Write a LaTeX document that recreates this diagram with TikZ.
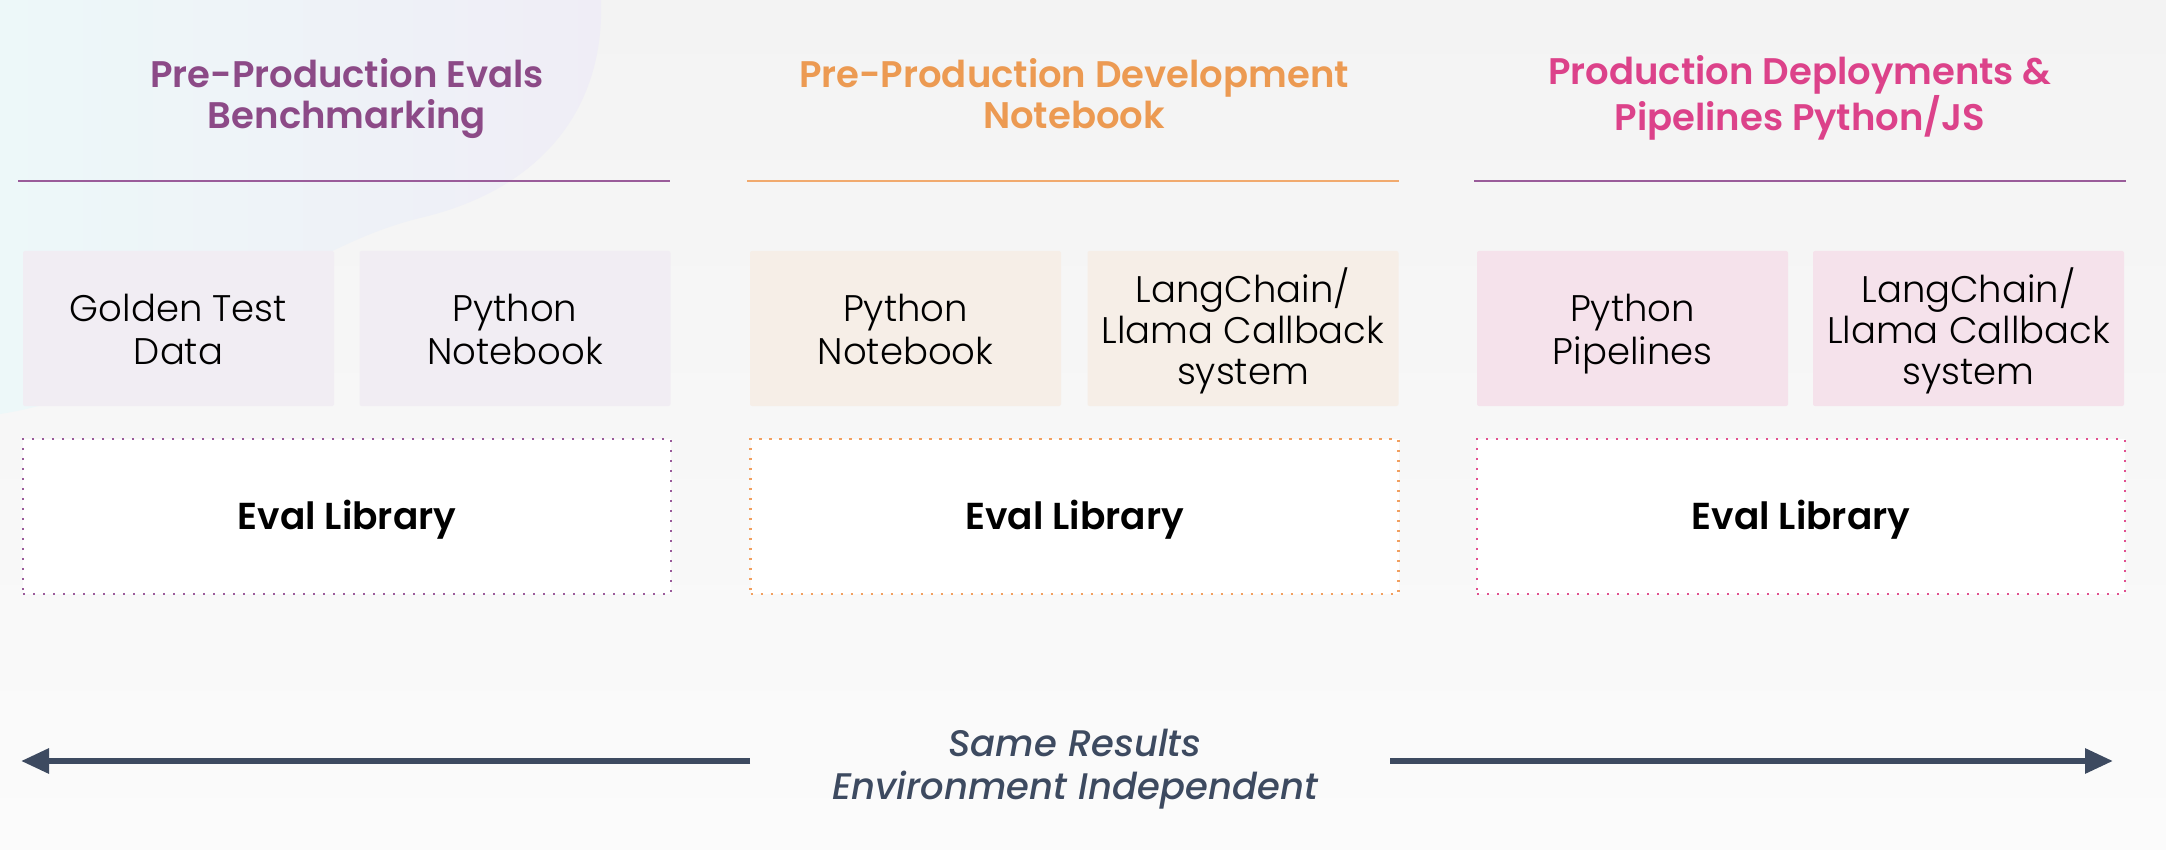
\documentclass[tikz,border=0pt]{standalone}
\usepackage{fontspec}
\setmainfont{Poppins}
\newfontfamily\plight{Poppins Light}
\newfontfamily\psemi{Poppins SemiBold}
\newfontfamily\pmedit{Poppins Medium Italic}
\usetikzlibrary{arrows.meta}
\definecolor{bgtop}{HTML}{F3F3F3}
\definecolor{bgbot}{HTML}{FBFBFB}
\definecolor{blobA}{HTML}{EDF8F9}
\definecolor{blobB}{HTML}{EFEDF6}
\definecolor{tpurple}{HTML}{8C4A87}
\definecolor{torange}{HTML}{EC9A52}
\definecolor{tpink}{HTML}{DC428A}
\definecolor{lpurple}{HTML}{9A5C9A}
\definecolor{lorange}{HTML}{F1AA6E}
\definecolor{fpurple}{HTML}{F1EDF3}
\definecolor{forange}{HTML}{F6EEE7}
\definecolor{fpink}{HTML}{F5E2EB}
\definecolor{dpurple}{HTML}{9A5C9A}
\definecolor{dorange}{HTML}{F2A060}
\definecolor{dpink}{HTML}{E0508F}
\definecolor{slate}{HTML}{3D4A60}
\tikzset{
  struts/.style={execute at begin node=\strut, execute at end node=\strut},
  title/.style={font=\psemi\fontsize{37}{41}\selectfont, align=center, anchor=center, struts},
  item/.style={inner sep=0pt, minimum width=311pt, minimum height=155pt, rounded corners=2pt},
  itemtext/.style={font=\plight\fontsize{37}{43}\selectfont, align=center, inner sep=0pt, struts},
  itemtextiii/.style={font=\plight\fontsize{37}{41}\selectfont, align=center, inner sep=0pt, struts},
  evalbox/.style={fill=white, line width=2.4pt, dash pattern=on 2.4pt off 7.6pt,
    minimum width=648pt, minimum height=155pt, font=\psemi\fontsize{37.5}{43}\selectfont,
    execute at begin node=\rule{0pt}{38pt}, execute at end node=\strut},
  hline/.style={line width=2pt},
  bigarrow/.style={line width=6pt, draw=slate, -{Triangle[length=28pt,width=24pt]}},
}
\begin{document}
\begin{tikzpicture}[x=1pt,y=-1pt]
\useasboundingbox (0,0) rectangle (2166,850);
\shade[top color=bgtop, bottom color=bgbot] (0,0) rectangle (2166,850);
\shade[left color=blobA, right color=blobB]
  (0,0) -- (601,0) .. controls (605,110) and (540,190) .. (420,218)
  .. controls (270,255) and (160,390) .. (0,414) -- cycle;
% titles
\node[title, text=tpurple] (t1) at (347,99.5) {Pre-Production Evals\\Benchmarking};
\node[title, text=torange] (t2) at (1074,99.5) {Pre-Production Development\\Notebook};
\node[title, text=tpink] (t3) at (1800,99.5) {Production Deployments \&\\Pipelines Python/JS};
% header lines
\draw[hline, lpurple] (18,181) coordinate (l1a) -- (670,181) coordinate (l1b);
\draw[hline, lorange] (747,181) coordinate (l2a) -- (1399,181) coordinate (l2b);
\draw[hline, lpurple] (1474,181) coordinate (l3a) -- (2126,181) coordinate (l3b);
% item boxes
\node[item, fill=fpurple] (b11) at (178.5,328.5) {};
\node[item, fill=fpurple] (b12) at (515,328.5) {};
\node[item, fill=forange] (b21) at (905.5,328.5) {};
\node[item, fill=forange] (b22) at (1243,328.5) {};
\node[item, fill=fpink] (b31) at (1632.5,328.5) {};
\node[item, fill=fpink] (b32) at (1968.5,328.5) {};
\node[itemtext] (b11t) at ([yshift=-7pt]b11.center) {Golden Test\\Data};
\node[itemtext] (b12t) at ([yshift=-7pt]b12.center) {Python\\Notebook};
\node[itemtext] (b21t) at ([yshift=-7pt]b21.center) {Python\\Notebook};
\node[itemtextiii] (b22t) at ([yshift=-4pt]b22.center) {LangChain/\\Llama Callback\\system};
\node[itemtext] (b31t) at ([yshift=-7pt]b31.center) {Python\\Pipelines};
\node[itemtextiii] (b32t) at ([yshift=-4pt]b32.center) {LangChain/\\Llama Callback\\system};
% eval library boxes
\node[evalbox, draw=dpurple] (e1) at (347,516.5) {Eval Library};
\node[evalbox, draw=dorange] (e2) at (1074.5,516.5) {Eval Library};
\node[evalbox, draw=dpink] (e3) at (1801,516.5) {Eval Library};
% bottom
\node[font=\pmedit\fontsize{37}{43}\selectfont, text=slate, align=center, struts] (mid) at (1075,770.5) {Same Results\\Environment Independent};
\coordinate (la) at (750,761);
\coordinate (lt) at (21,761);
\coordinate (ra) at (1390,761);
\coordinate (rt) at (2113,761);
\draw[bigarrow] (la) -- (lt);
\draw[bigarrow] (ra) -- (rt);
\end{tikzpicture}
\end{document}
